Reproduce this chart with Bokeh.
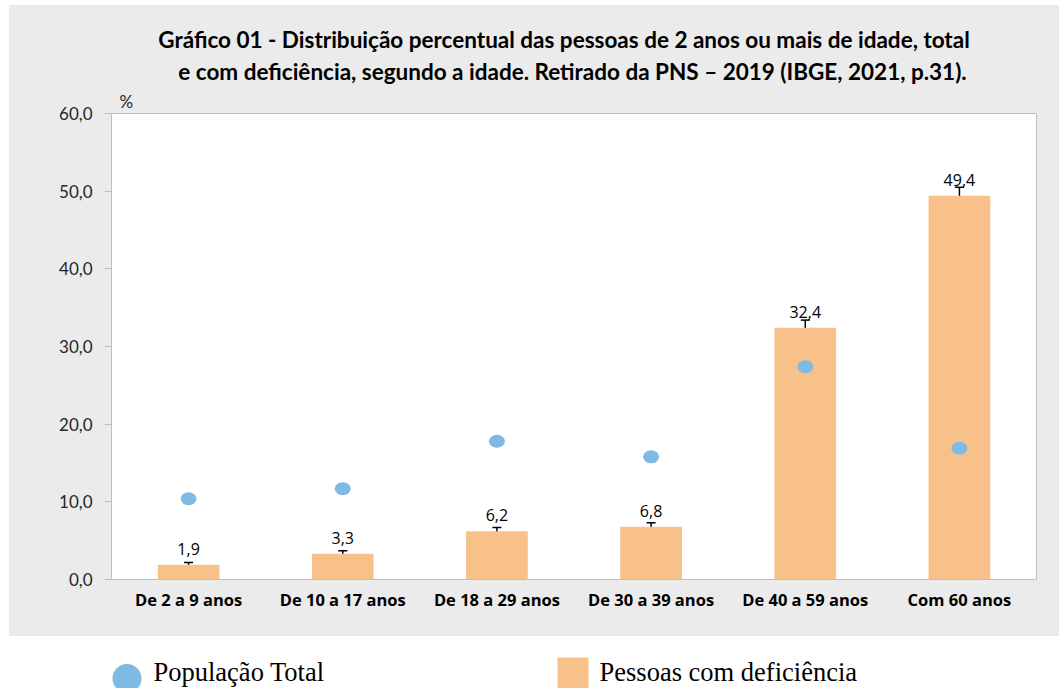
from bokeh.plotting import figure
from bokeh.models import (ColumnDataSource, FactorRange, Range1d, FixedTicker,
                          Whisker, TeeHead, Spacer)
from bokeh.layouts import column, row
from bokeh.core.properties import value
from bokeh.embed import file_html
from bokeh.resources import INLINE

# ---------------- data ----------------
categories = ["De 2 a 9 anos", "De 10 a 17 anos", "De 18 a 29 anos",
              "De 30 a 39 anos", "De 40 a 59 anos", "Com 60 anos"]
populacao_total = [10.4, 11.7, 17.8, 15.8, 27.4, 16.9]
pessoas_deficiencia = [1.9, 3.3, 6.2, 6.8, 32.4, 49.4]
erro_deficiencia = [0.3, 0.4, 0.5, 0.5, 1.0, 1.1]
y_ticks = [0, 10, 20, 30, 40, 50, 60]
y_tick_labels = ["0,0", "10,0", "20,0", "30,0", "40,0", "50,0", "60,0"]
title_lines = ["Gráfico 01 - Distribuição percentual das pessoas de 2 anos ou mais de idade, total",
               "e com deficiência, segundo a idade. Retirado da PNS – 2019 (IBGE, 2021, p.31)."]
legend_labels = ["População Total", "Pessoas com deficiência"]
unit_label = "%"

BAR = "#F9C18A"
DOT = "#7EBAE4"
GREY_BG = "#EBEBEB"
AXIS = "#BFBFBF"

src = ColumnDataSource(dict(
    cat=categories,
    pop=populacao_total,
    dfc=pessoas_deficiencia,
    up=[v + e for v, e in zip(pessoas_deficiencia, erro_deficiencia)],
    lo=[v - e for v, e in zip(pessoas_deficiencia, erro_deficiencia)],
    lbl=[f"{v:.1f}".replace(".", ",") for v in pessoas_deficiencia],
))

# ---------------- title strip ----------------
# (its frame is aligned by the column layout with the chart's frame: page x 111..1036)
ts = figure(width=1050, height=81, x_range=Range1d(111, 1036), y_range=Range1d(86, 5),
            x_axis_type=None, y_axis_type=None, output_backend="svg", toolbar_location=None,
            min_border=0)
ts.outline_line_color = None
ts.background_fill_color = GREY_BG
ts.border_fill_color = GREY_BG
ts.text(x=[563.5, 572], y=[39, 71], text=title_lines, text_align="center", text_baseline="middle",
        text_font=value("Lato"), text_font_style="bold", text_font_size="22.5px", text_color="black")

# ---------------- main chart ----------------
p = figure(width=1050, height=550, x_range=FactorRange(*categories, range_padding=0),
           y_range=Range1d(0, 60), output_backend="svg", toolbar_location=None,
           min_border_left=102, min_border_right=23, min_border_top=0, min_border_bottom=57)
p.border_fill_color = GREY_BG
p.background_fill_color = "white"
p.outline_line_color = AXIS
p.grid.grid_line_color = None

p.title.text = unit_label
p.title.align = "left"
p.title.offset = 8
p.title.standoff = 4
p.title.text_font = "Lato"
p.title.text_font_style = "normal"
p.title.text_font_size = "17px"
p.title.text_color = "#262626"

p.vbar(x="cat", top="dfc", width=0.4, source=src, fill_color=BAR, line_color=None)
p.add_layout(Whisker(base="cat", upper="up", lower="lo", source=src,
                     line_color="black", line_width=1.5,
                     upper_head=TeeHead(size=9, line_color="black", line_width=1.5),
                     lower_head=TeeHead(size=9, line_color="black", line_width=1.5)))
p.ellipse(x="cat", y="pop", width=16, height=13, width_units="screen", height_units="screen",
          source=src, fill_color=DOT, line_color=None)
p.text(x="cat", y="dfc", text="lbl", source=src, y_offset=-16,
       text_align="center", text_baseline="middle", text_font=value("Open Sans"),
       text_font_size="16px", text_color="black")

p.yaxis.ticker = FixedTicker(ticks=y_ticks)
p.yaxis.major_label_overrides = {t: l for t, l in zip(y_ticks, y_tick_labels)}
p.yaxis.axis_line_color = AXIS
p.yaxis.major_tick_line_color = AXIS
p.yaxis.major_tick_out = 7
p.yaxis.major_tick_in = 0
p.yaxis.minor_tick_line_color = None
p.yaxis.major_label_standoff = 12
p.yaxis.major_label_text_font = "Lato"
p.yaxis.major_label_text_font_size = "17px"
p.yaxis.major_label_text_color = "#262626"

p.xaxis.axis_line_color = AXIS
p.xaxis.major_tick_line_color = None
p.xaxis.minor_tick_line_color = None
p.xaxis.major_label_standoff = 2
p.xaxis.major_label_text_font = "Open Sans"
p.xaxis.major_label_text_font_style = "bold"
p.xaxis.major_label_text_font_size = "16.5px"
p.xaxis.major_label_text_color = "black"

# ---------------- legend strip ----------------
lg = figure(width=1060, height=52, x_range=Range1d(0, 1060), y_range=Range1d(688, 636),
            x_axis_type=None, y_axis_type=None, output_backend="svg", toolbar_location=None,
            min_border=0)
lg.outline_line_color = None
lg.background_fill_color = "white"
lg.border_fill_color = "white"
lg.circle(x=[126.5], y=[678], radius=14.5, fill_color=DOT, line_color=None)
lg.quad(left=[557], right=[588], top=[657], bottom=[692], fill_color=BAR, line_color=None)
lg.text(x=[153, 599], y=[671, 671], text=legend_labels, text_font=value("Liberation Serif"),
        text_font_size="26.5px", text_baseline="middle", text_color="black")

chart = column(ts, p, spacing=0, styles={"background-color": GREY_BG})
layout = column(Spacer(width=1060, height=5),
                row(Spacer(width=9, height=631), chart, spacing=0),
                lg, spacing=0)
open("out.html", "w").write(file_html(layout, INLINE))
